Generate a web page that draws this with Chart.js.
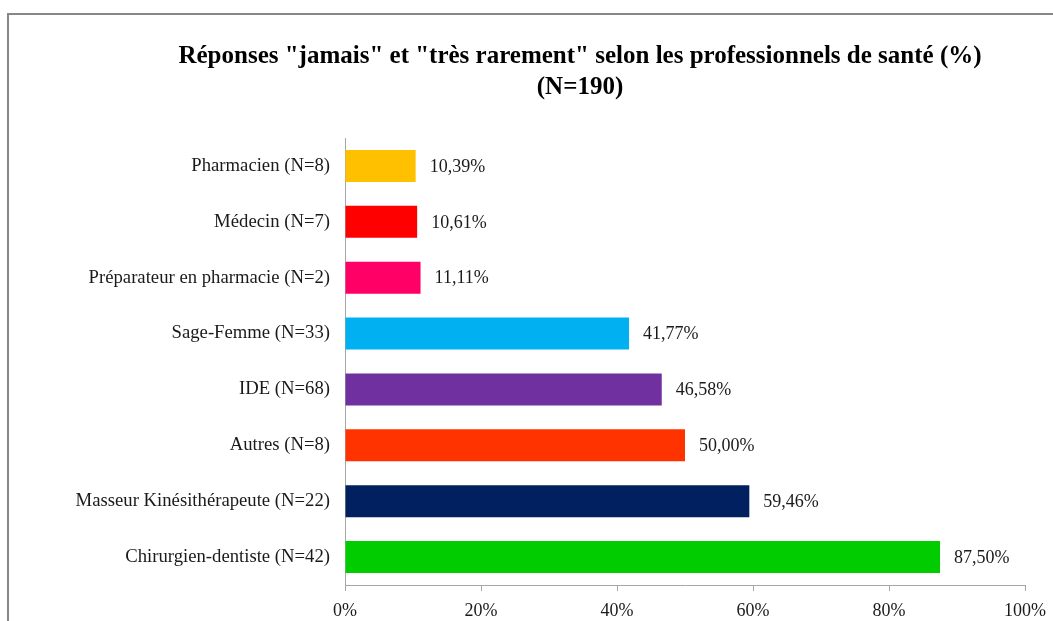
<!DOCTYPE html>
<html>
<head>
<meta charset="utf-8">
<script src="https://cdn.jsdelivr.net/npm/chart.js@4.4.1/dist/chart.umd.min.js"></script>
<style>
  html, body { margin: 0; padding: 0; background: #ffffff; }
  #wrap { width: 1053px; height: 621px; position: relative; }
</style>
</head>
<body>
<div id="wrap"><canvas id="c" width="1053" height="621"></canvas></div>
<script>
const categories = [
  "Pharmacien (N=8)",
  "Médecin (N=7)",
  "Préparateur en pharmacie (N=2)",
  "Sage-Femme (N=33)",
  "IDE (N=68)",
  "Autres (N=8)",
  "Masseur Kinésithérapeute (N=22)",
  "Chirurgien-dentiste (N=42)"
];
const values = [10.39, 10.61, 11.11, 41.77, 46.58, 50.00, 59.46, 87.50];
const barColors = ["#FFC000", "#FF0000", "#FF0066", "#00B0F0", "#7030A0", "#FF3300", "#002060", "#00CC00"];
const titleLines = ['Réponses "jamais" et "très rarement" selon les professionnels de santé (%)', '(N=190)'];
const xTickMin = 0, xTickMax = 100, xTickStep = 20;

const SERIF = "'Liberation Serif', 'Times New Roman', serif";

const frame = {
  id: 'frame',
  beforeDraw(chart) {
    const ctx = chart.ctx;
    ctx.save();
    ctx.fillStyle = '#ffffff';
    ctx.fillRect(0, 0, chart.width, chart.height);
    ctx.strokeStyle = '#878787';
    ctx.lineWidth = 2;
    ctx.strokeRect(8, 14, 1200, 800);
    ctx.restore();
  }
};

const titleShift = {
  id: 'titleShift',
  afterLayout(chart) {
    if (chart.titleBlock) {
      chart.titleBlock.left = 135;
      chart.titleBlock.right = 1025;
    }
  }
};

const valueLabels = {
  id: 'valueLabels',
  afterDatasetsDraw(chart) {
    const ctx = chart.ctx;
    const meta = chart.getDatasetMeta(0);
    ctx.save();
    ctx.font = "18px " + SERIF;
    ctx.fillStyle = '#1a1a1a';
    ctx.textBaseline = 'middle';
    ctx.textAlign = 'left';
    meta.data.forEach((bar, i) => {
      const txt = values[i].toFixed(2).replace('.', ',') + '%';
      ctx.fillText(txt, bar.x + 14, bar.y + 1);
    });
    ctx.restore();
  }
};

new Chart(document.getElementById('c'), {
  type: 'bar',
  data: {
    labels: categories,
    datasets: [{
      data: values,
      backgroundColor: barColors,
      borderWidth: 0,
      categoryPercentage: 1.0,
      barPercentage: 0.572
    }]
  },
  options: {
    indexAxis: 'y',
    responsive: false,
    animation: false,
    devicePixelRatio: 1,
    layout: { padding: { left: 10, right: 28, top: 41, bottom: 2 } },
    plugins: {
      legend: { display: false },
      tooltip: { enabled: false },
      title: {
        display: true,
        text: titleLines,
        color: '#000000',
        font: { family: SERIF, size: 25, weight: 'bold', lineHeight: 1.24 },
        padding: { top: 0, bottom: 35 }
      }
    },
    scales: {
      x: {
        min: xTickMin,
        max: xTickMax,
        ticks: {
          stepSize: xTickStep,
          color: '#1a1a1a',
          font: { family: SERIF, size: 18 },
          padding: 9,
          maxRotation: 0,
          callback: v => v + '%'
        },
        grid: { display: true, drawOnChartArea: false, drawTicks: true, tickLength: 6, color: '#a6a6a6' },
        border: { display: true, color: '#a6a6a6', width: 1 },
        afterFit(scale) { scale.height = 34; scale.paddingRight = 0; scale.paddingLeft = 0; }
      },
      y: {
        ticks: {
          color: '#1a1a1a',
          font: { family: SERIF, size: 18.7 },
          padding: 15,
          autoSkip: false
        },
        grid: { display: false, drawTicks: false },
        border: { display: true, color: '#a6a6a6', width: 1 },
        afterFit(scale) { scale.width = 335; }
      }
    }
  },
  plugins: [frame, titleShift, valueLabels]
});
</script>
</body>
</html>
